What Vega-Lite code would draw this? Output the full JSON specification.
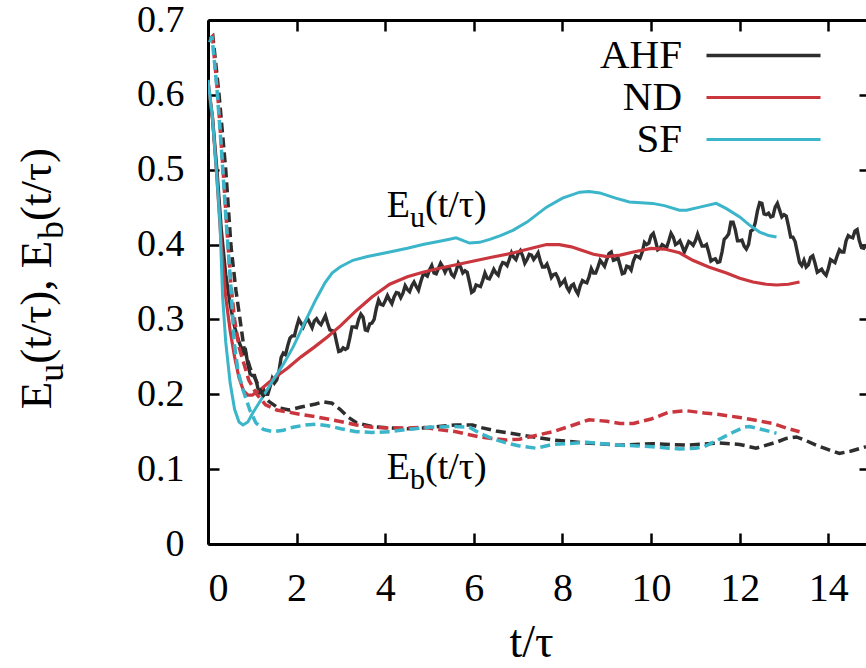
{
  "$schema": "https://vega.github.io/schema/vega-lite/v6.json",
  "width": 658,
  "height": 524,
  "autosize": "none",
  "padding": {"left": 208, "top": 20, "right": 0, "bottom": 124},
  "background": "white",
  "config": {
    "view": {"stroke": null},
    "font": "Liberation Serif, Times New Roman, serif",
    "axis": {"grid": false, "domainColor": "black", "domainWidth": 3, "tickColor": "black", "tickWidth": 2.5,
      "labelFont": "Liberation Serif, Times New Roman, serif", "labelFontSize": 40, "labelColor": "black",
      "titleFont": "Liberation Serif, Times New Roman, serif", "titleFontSize": 46, "titleFontWeight": "normal", "titleColor": "black"},
    "legend": {"labelFont": "Liberation Serif, Times New Roman, serif"},
    "text": {"font": "Liberation Serif, Times New Roman, serif", "fontSize": 38, "color": "black"}
  },
  "datasets": {
    "curves": [
      {"model":"AHF","qty":"Eu","t":0,"E":0.61},{"model":"AHF","qty":"Eu","t":0.1,"E":0.57},{"model":"AHF","qty":"Eu","t":0.2,"E":0.5},{"model":"AHF","qty":"Eu","t":0.3,"E":0.42},{"model":"AHF","qty":"Eu","t":0.4,"E":0.36},{"model":"AHF","qty":"Eu","t":0.5,"E":0.32},{"model":"AHF","qty":"Eu","t":0.6,"E":0.29},{"model":"AHF","qty":"Eu","t":0.7,"E":0.27},{"model":"AHF","qty":"Eu","t":0.8,"E":0.255},{"model":"AHF","qty":"Eu","t":0.85,"E":0.258},{"model":"AHF","qty":"Eu","t":0.9,"E":0.24},{"model":"AHF","qty":"Eu","t":0.95,"E":0.227},
      {"model":"AHF","qty":"Eu","t":1.0,"E":0.225},{"model":"AHF","qty":"Eu","t":1.05,"E":0.225},{"model":"AHF","qty":"Eu","t":1.1,"E":0.215},{"model":"AHF","qty":"Eu","t":1.15,"E":0.202},{"model":"AHF","qty":"Eu","t":1.2,"E":0.205},{"model":"AHF","qty":"Eu","t":1.25,"E":0.207},{"model":"AHF","qty":"Eu","t":1.3,"E":0.2},{"model":"AHF","qty":"Eu","t":1.35,"E":0.2},{"model":"AHF","qty":"Eu","t":1.4,"E":0.21},{"model":"AHF","qty":"Eu","t":1.45,"E":0.221},{"model":"AHF","qty":"Eu","t":1.5,"E":0.215},{"model":"AHF","qty":"Eu","t":1.55,"E":0.219},{"model":"AHF","qty":"Eu","t":1.6,"E":0.23},{"model":"AHF","qty":"Eu","t":1.65,"E":0.249},{"model":"AHF","qty":"Eu","t":1.7,"E":0.255},{"model":"AHF","qty":"Eu","t":1.75,"E":0.253},{"model":"AHF","qty":"Eu","t":1.8,"E":0.265},{"model":"AHF","qty":"Eu","t":1.85,"E":0.275},{"model":"AHF","qty":"Eu","t":1.9,"E":0.278},{"model":"AHF","qty":"Eu","t":1.95,"E":0.278},
      {"model":"AHF","qty":"Eu","t":2.0,"E":0.29},{"model":"AHF","qty":"Eu","t":2.05,"E":0.3},{"model":"AHF","qty":"Eu","t":2.1,"E":0.295},{"model":"AHF","qty":"Eu","t":2.15,"E":0.29},{"model":"AHF","qty":"Eu","t":2.2,"E":0.297},{"model":"AHF","qty":"Eu","t":2.25,"E":0.301},{"model":"AHF","qty":"Eu","t":2.3,"E":0.295},{"model":"AHF","qty":"Eu","t":2.35,"E":0.289},{"model":"AHF","qty":"Eu","t":2.4,"E":0.298},{"model":"AHF","qty":"Eu","t":2.45,"E":0.301},{"model":"AHF","qty":"Eu","t":2.5,"E":0.296},{"model":"AHF","qty":"Eu","t":2.55,"E":0.293},{"model":"AHF","qty":"Eu","t":2.6,"E":0.299},{"model":"AHF","qty":"Eu","t":2.65,"E":0.305},{"model":"AHF","qty":"Eu","t":2.7,"E":0.295},{"model":"AHF","qty":"Eu","t":2.75,"E":0.286},{"model":"AHF","qty":"Eu","t":2.8,"E":0.285},{"model":"AHF","qty":"Eu","t":2.85,"E":0.284},{"model":"AHF","qty":"Eu","t":2.9,"E":0.27},{"model":"AHF","qty":"Eu","t":2.95,"E":0.257},
      {"model":"AHF","qty":"Eu","t":3.0,"E":0.258},{"model":"AHF","qty":"Eu","t":3.05,"E":0.262},{"model":"AHF","qty":"Eu","t":3.1,"E":0.26},{"model":"AHF","qty":"Eu","t":3.15,"E":0.262},{"model":"AHF","qty":"Eu","t":3.2,"E":0.275},{"model":"AHF","qty":"Eu","t":3.25,"E":0.29},{"model":"AHF","qty":"Eu","t":3.3,"E":0.29},{"model":"AHF","qty":"Eu","t":3.35,"E":0.289},{"model":"AHF","qty":"Eu","t":3.4,"E":0.3},{"model":"AHF","qty":"Eu","t":3.45,"E":0.307},{"model":"AHF","qty":"Eu","t":3.5,"E":0.303},{"model":"AHF","qty":"Eu","t":3.55,"E":0.286},{"model":"AHF","qty":"Eu","t":3.6,"E":0.285},{"model":"AHF","qty":"Eu","t":3.65,"E":0.294},{"model":"AHF","qty":"Eu","t":3.7,"E":0.295},{"model":"AHF","qty":"Eu","t":3.75,"E":0.3},{"model":"AHF","qty":"Eu","t":3.8,"E":0.315},{"model":"AHF","qty":"Eu","t":3.85,"E":0.326},{"model":"AHF","qty":"Eu","t":3.9,"E":0.32},{"model":"AHF","qty":"Eu","t":3.95,"E":0.319},
      {"model":"AHF","qty":"Eu","t":4.0,"E":0.325},{"model":"AHF","qty":"Eu","t":4.05,"E":0.332},{"model":"AHF","qty":"Eu","t":4.1,"E":0.326},{"model":"AHF","qty":"Eu","t":4.15,"E":0.321},{"model":"AHF","qty":"Eu","t":4.2,"E":0.33},{"model":"AHF","qty":"Eu","t":4.25,"E":0.336},{"model":"AHF","qty":"Eu","t":4.3,"E":0.335},{"model":"AHF","qty":"Eu","t":4.35,"E":0.329},{"model":"AHF","qty":"Eu","t":4.4,"E":0.335},{"model":"AHF","qty":"Eu","t":4.45,"E":0.345},{"model":"AHF","qty":"Eu","t":4.5,"E":0.34},{"model":"AHF","qty":"Eu","t":4.55,"E":0.337},{"model":"AHF","qty":"Eu","t":4.6,"E":0.345},{"model":"AHF","qty":"Eu","t":4.65,"E":0.35},{"model":"AHF","qty":"Eu","t":4.7,"E":0.344},{"model":"AHF","qty":"Eu","t":4.75,"E":0.339},{"model":"AHF","qty":"Eu","t":4.8,"E":0.35},{"model":"AHF","qty":"Eu","t":4.85,"E":0.359},{"model":"AHF","qty":"Eu","t":4.9,"E":0.36},{"model":"AHF","qty":"Eu","t":4.95,"E":0.358},
      {"model":"AHF","qty":"Eu","t":5.0,"E":0.366},{"model":"AHF","qty":"Eu","t":5.05,"E":0.372},{"model":"AHF","qty":"Eu","t":5.1,"E":0.362},{"model":"AHF","qty":"Eu","t":5.15,"E":0.361},{"model":"AHF","qty":"Eu","t":5.2,"E":0.368},{"model":"AHF","qty":"Eu","t":5.25,"E":0.375},{"model":"AHF","qty":"Eu","t":5.3,"E":0.37},{"model":"AHF","qty":"Eu","t":5.35,"E":0.363},{"model":"AHF","qty":"Eu","t":5.4,"E":0.369},{"model":"AHF","qty":"Eu","t":5.45,"E":0.368},{"model":"AHF","qty":"Eu","t":5.5,"E":0.36},{"model":"AHF","qty":"Eu","t":5.55,"E":0.357},{"model":"AHF","qty":"Eu","t":5.6,"E":0.365},{"model":"AHF","qty":"Eu","t":5.65,"E":0.375},{"model":"AHF","qty":"Eu","t":5.7,"E":0.37},{"model":"AHF","qty":"Eu","t":5.75,"E":0.362},{"model":"AHF","qty":"Eu","t":5.8,"E":0.365},{"model":"AHF","qty":"Eu","t":5.85,"E":0.363},{"model":"AHF","qty":"Eu","t":5.9,"E":0.35},{"model":"AHF","qty":"Eu","t":5.95,"E":0.336},
      {"model":"AHF","qty":"Eu","t":6.0,"E":0.338},{"model":"AHF","qty":"Eu","t":6.05,"E":0.346},{"model":"AHF","qty":"Eu","t":6.1,"E":0.345},{"model":"AHF","qty":"Eu","t":6.15,"E":0.344},{"model":"AHF","qty":"Eu","t":6.2,"E":0.352},{"model":"AHF","qty":"Eu","t":6.25,"E":0.362},{"model":"AHF","qty":"Eu","t":6.3,"E":0.355},{"model":"AHF","qty":"Eu","t":6.35,"E":0.354},{"model":"AHF","qty":"Eu","t":6.4,"E":0.36},{"model":"AHF","qty":"Eu","t":6.45,"E":0.367},{"model":"AHF","qty":"Eu","t":6.5,"E":0.362},{"model":"AHF","qty":"Eu","t":6.55,"E":0.359},{"model":"AHF","qty":"Eu","t":6.6,"E":0.37},{"model":"AHF","qty":"Eu","t":6.65,"E":0.376},{"model":"AHF","qty":"Eu","t":6.7,"E":0.375},{"model":"AHF","qty":"Eu","t":6.75,"E":0.372},{"model":"AHF","qty":"Eu","t":6.8,"E":0.38},{"model":"AHF","qty":"Eu","t":6.85,"E":0.389},{"model":"AHF","qty":"Eu","t":6.9,"E":0.383},{"model":"AHF","qty":"Eu","t":6.95,"E":0.38},
      {"model":"AHF","qty":"Eu","t":7.0,"E":0.388},{"model":"AHF","qty":"Eu","t":7.05,"E":0.392},{"model":"AHF","qty":"Eu","t":7.1,"E":0.385},{"model":"AHF","qty":"Eu","t":7.15,"E":0.375},{"model":"AHF","qty":"Eu","t":7.2,"E":0.38},{"model":"AHF","qty":"Eu","t":7.25,"E":0.387},{"model":"AHF","qty":"Eu","t":7.3,"E":0.386},{"model":"AHF","qty":"Eu","t":7.35,"E":0.38},{"model":"AHF","qty":"Eu","t":7.4,"E":0.384},{"model":"AHF","qty":"Eu","t":7.45,"E":0.389},{"model":"AHF","qty":"Eu","t":7.5,"E":0.378},{"model":"AHF","qty":"Eu","t":7.55,"E":0.37},{"model":"AHF","qty":"Eu","t":7.6,"E":0.37},{"model":"AHF","qty":"Eu","t":7.65,"E":0.374},{"model":"AHF","qty":"Eu","t":7.7,"E":0.366},{"model":"AHF","qty":"Eu","t":7.75,"E":0.356},{"model":"AHF","qty":"Eu","t":7.8,"E":0.36},{"model":"AHF","qty":"Eu","t":7.85,"E":0.361},{"model":"AHF","qty":"Eu","t":7.9,"E":0.355},{"model":"AHF","qty":"Eu","t":7.95,"E":0.346},
      {"model":"AHF","qty":"Eu","t":8.0,"E":0.349},{"model":"AHF","qty":"Eu","t":8.05,"E":0.353},{"model":"AHF","qty":"Eu","t":8.1,"E":0.343},{"model":"AHF","qty":"Eu","t":8.15,"E":0.338},{"model":"AHF","qty":"Eu","t":8.2,"E":0.345},{"model":"AHF","qty":"Eu","t":8.25,"E":0.347},{"model":"AHF","qty":"Eu","t":8.3,"E":0.339},{"model":"AHF","qty":"Eu","t":8.35,"E":0.334},{"model":"AHF","qty":"Eu","t":8.4,"E":0.345},{"model":"AHF","qty":"Eu","t":8.45,"E":0.352},{"model":"AHF","qty":"Eu","t":8.5,"E":0.35},{"model":"AHF","qty":"Eu","t":8.55,"E":0.349},{"model":"AHF","qty":"Eu","t":8.6,"E":0.357},{"model":"AHF","qty":"Eu","t":8.65,"E":0.368},{"model":"AHF","qty":"Eu","t":8.7,"E":0.362},{"model":"AHF","qty":"Eu","t":8.75,"E":0.362},{"model":"AHF","qty":"Eu","t":8.8,"E":0.37},{"model":"AHF","qty":"Eu","t":8.85,"E":0.379},{"model":"AHF","qty":"Eu","t":8.9,"E":0.375},{"model":"AHF","qty":"Eu","t":8.95,"E":0.371},
      {"model":"AHF","qty":"Eu","t":9.0,"E":0.38},{"model":"AHF","qty":"Eu","t":9.05,"E":0.388},{"model":"AHF","qty":"Eu","t":9.1,"E":0.39},{"model":"AHF","qty":"Eu","t":9.15,"E":0.379},{"model":"AHF","qty":"Eu","t":9.2,"E":0.38},{"model":"AHF","qty":"Eu","t":9.25,"E":0.383},{"model":"AHF","qty":"Eu","t":9.3,"E":0.372},{"model":"AHF","qty":"Eu","t":9.35,"E":0.361},{"model":"AHF","qty":"Eu","t":9.4,"E":0.362},{"model":"AHF","qty":"Eu","t":9.45,"E":0.371},{"model":"AHF","qty":"Eu","t":9.5,"E":0.37},{"model":"AHF","qty":"Eu","t":9.55,"E":0.366},{"model":"AHF","qty":"Eu","t":9.6,"E":0.378},{"model":"AHF","qty":"Eu","t":9.65,"E":0.385},{"model":"AHF","qty":"Eu","t":9.7,"E":0.384},{"model":"AHF","qty":"Eu","t":9.75,"E":0.382},{"model":"AHF","qty":"Eu","t":9.8,"E":0.39},{"model":"AHF","qty":"Eu","t":9.85,"E":0.403},{"model":"AHF","qty":"Eu","t":9.9,"E":0.4},{"model":"AHF","qty":"Eu","t":9.95,"E":0.402},
      {"model":"AHF","qty":"Eu","t":10.0,"E":0.412},{"model":"AHF","qty":"Eu","t":10.05,"E":0.415},{"model":"AHF","qty":"Eu","t":10.1,"E":0.405},{"model":"AHF","qty":"Eu","t":10.15,"E":0.393},{"model":"AHF","qty":"Eu","t":10.2,"E":0.395},{"model":"AHF","qty":"Eu","t":10.25,"E":0.4},{"model":"AHF","qty":"Eu","t":10.3,"E":0.398},{"model":"AHF","qty":"Eu","t":10.35,"E":0.396},{"model":"AHF","qty":"Eu","t":10.4,"E":0.405},{"model":"AHF","qty":"Eu","t":10.45,"E":0.415},{"model":"AHF","qty":"Eu","t":10.5,"E":0.41},{"model":"AHF","qty":"Eu","t":10.55,"E":0.4},{"model":"AHF","qty":"Eu","t":10.6,"E":0.402},{"model":"AHF","qty":"Eu","t":10.65,"E":0.405},{"model":"AHF","qty":"Eu","t":10.7,"E":0.398},{"model":"AHF","qty":"Eu","t":10.75,"E":0.39},{"model":"AHF","qty":"Eu","t":10.8,"E":0.397},{"model":"AHF","qty":"Eu","t":10.85,"E":0.404},{"model":"AHF","qty":"Eu","t":10.9,"E":0.402},{"model":"AHF","qty":"Eu","t":10.95,"E":0.399},
      {"model":"AHF","qty":"Eu","t":11.0,"E":0.405},{"model":"AHF","qty":"Eu","t":11.05,"E":0.414},{"model":"AHF","qty":"Eu","t":11.1,"E":0.406},{"model":"AHF","qty":"Eu","t":11.15,"E":0.398},{"model":"AHF","qty":"Eu","t":11.2,"E":0.398},{"model":"AHF","qty":"Eu","t":11.25,"E":0.4},{"model":"AHF","qty":"Eu","t":11.3,"E":0.39},{"model":"AHF","qty":"Eu","t":11.35,"E":0.378},{"model":"AHF","qty":"Eu","t":11.4,"E":0.38},{"model":"AHF","qty":"Eu","t":11.45,"E":0.381},{"model":"AHF","qty":"Eu","t":11.5,"E":0.376},{"model":"AHF","qty":"Eu","t":11.55,"E":0.377},{"model":"AHF","qty":"Eu","t":11.6,"E":0.39},{"model":"AHF","qty":"Eu","t":11.65,"E":0.407},{"model":"AHF","qty":"Eu","t":11.7,"E":0.41},{"model":"AHF","qty":"Eu","t":11.75,"E":0.414},{"model":"AHF","qty":"Eu","t":11.8,"E":0.43},{"model":"AHF","qty":"Eu","t":11.85,"E":0.43},{"model":"AHF","qty":"Eu","t":11.9,"E":0.42},{"model":"AHF","qty":"Eu","t":11.95,"E":0.405},
      {"model":"AHF","qty":"Eu","t":12.0,"E":0.405},{"model":"AHF","qty":"Eu","t":12.05,"E":0.406},{"model":"AHF","qty":"Eu","t":12.1,"E":0.398},{"model":"AHF","qty":"Eu","t":12.15,"E":0.394},{"model":"AHF","qty":"Eu","t":12.2,"E":0.4},{"model":"AHF","qty":"Eu","t":12.25,"E":0.418},{"model":"AHF","qty":"Eu","t":12.3,"E":0.42},{"model":"AHF","qty":"Eu","t":12.35,"E":0.429},{"model":"AHF","qty":"Eu","t":12.4,"E":0.445},{"model":"AHF","qty":"Eu","t":12.45,"E":0.456},{"model":"AHF","qty":"Eu","t":12.5,"E":0.455},{"model":"AHF","qty":"Eu","t":12.55,"E":0.441},{"model":"AHF","qty":"Eu","t":12.6,"E":0.44},{"model":"AHF","qty":"Eu","t":12.65,"E":0.442},{"model":"AHF","qty":"Eu","t":12.7,"E":0.437},{"model":"AHF","qty":"Eu","t":12.75,"E":0.438},{"model":"AHF","qty":"Eu","t":12.8,"E":0.45},{"model":"AHF","qty":"Eu","t":12.85,"E":0.455},{"model":"AHF","qty":"Eu","t":12.9,"E":0.446},{"model":"AHF","qty":"Eu","t":12.95,"E":0.437},
      {"model":"AHF","qty":"Eu","t":13.0,"E":0.44},{"model":"AHF","qty":"Eu","t":13.05,"E":0.438},{"model":"AHF","qty":"Eu","t":13.1,"E":0.425},{"model":"AHF","qty":"Eu","t":13.15,"E":0.41},{"model":"AHF","qty":"Eu","t":13.2,"E":0.41},{"model":"AHF","qty":"Eu","t":13.25,"E":0.404},{"model":"AHF","qty":"Eu","t":13.3,"E":0.39},{"model":"AHF","qty":"Eu","t":13.35,"E":0.376},{"model":"AHF","qty":"Eu","t":13.4,"E":0.372},{"model":"AHF","qty":"Eu","t":13.45,"E":0.379},{"model":"AHF","qty":"Eu","t":13.5,"E":0.37},{"model":"AHF","qty":"Eu","t":13.55,"E":0.373},{"model":"AHF","qty":"Eu","t":13.6,"E":0.383},{"model":"AHF","qty":"Eu","t":13.65,"E":0.385},{"model":"AHF","qty":"Eu","t":13.7,"E":0.375},{"model":"AHF","qty":"Eu","t":13.75,"E":0.363},{"model":"AHF","qty":"Eu","t":13.8,"E":0.365},{"model":"AHF","qty":"Eu","t":13.85,"E":0.367},{"model":"AHF","qty":"Eu","t":13.9,"E":0.362},{"model":"AHF","qty":"Eu","t":13.95,"E":0.359},
      {"model":"AHF","qty":"Eu","t":14.0,"E":0.368},{"model":"AHF","qty":"Eu","t":14.05,"E":0.38},{"model":"AHF","qty":"Eu","t":14.1,"E":0.378},{"model":"AHF","qty":"Eu","t":14.15,"E":0.376},{"model":"AHF","qty":"Eu","t":14.2,"E":0.385},{"model":"AHF","qty":"Eu","t":14.25,"E":0.393},{"model":"AHF","qty":"Eu","t":14.3,"E":0.39},{"model":"AHF","qty":"Eu","t":14.35,"E":0.39},{"model":"AHF","qty":"Eu","t":14.4,"E":0.405},{"model":"AHF","qty":"Eu","t":14.45,"E":0.412},{"model":"AHF","qty":"Eu","t":14.5,"E":0.41},{"model":"AHF","qty":"Eu","t":14.55,"E":0.409},{"model":"AHF","qty":"Eu","t":14.6,"E":0.418},{"model":"AHF","qty":"Eu","t":14.65,"E":0.42},{"model":"AHF","qty":"Eu","t":14.7,"E":0.405},{"model":"AHF","qty":"Eu","t":14.75,"E":0.396},{"model":"AHF","qty":"Eu","t":14.8,"E":0.395},{"model":"AHF","qty":"Eu","t":14.85,"E":0.4},

      {"model":"ND","qty":"Eu","t":0,"E":0.62},{"model":"ND","qty":"Eu","t":0.1,"E":0.57},{"model":"ND","qty":"Eu","t":0.2,"E":0.49},{"model":"ND","qty":"Eu","t":0.3,"E":0.4},{"model":"ND","qty":"Eu","t":0.4,"E":0.33},{"model":"ND","qty":"Eu","t":0.5,"E":0.285},{"model":"ND","qty":"Eu","t":0.6,"E":0.25},{"model":"ND","qty":"Eu","t":0.7,"E":0.222},{"model":"ND","qty":"Eu","t":0.8,"E":0.205},{"model":"ND","qty":"Eu","t":0.9,"E":0.199},{"model":"ND","qty":"Eu","t":1.0,"E":0.199},{"model":"ND","qty":"Eu","t":1.2,"E":0.207},{"model":"ND","qty":"Eu","t":1.5,"E":0.222},{"model":"ND","qty":"Eu","t":1.8,"E":0.235},{"model":"ND","qty":"Eu","t":2.1,"E":0.25},{"model":"ND","qty":"Eu","t":2.4,"E":0.263},{"model":"ND","qty":"Eu","t":2.7,"E":0.277},{"model":"ND","qty":"Eu","t":3.0,"E":0.292},{"model":"ND","qty":"Eu","t":3.35,"E":0.312},{"model":"ND","qty":"Eu","t":3.7,"E":0.33},{"model":"ND","qty":"Eu","t":4.1,"E":0.347},{"model":"ND","qty":"Eu","t":4.5,"E":0.357},{"model":"ND","qty":"Eu","t":4.85,"E":0.363},{"model":"ND","qty":"Eu","t":5.2,"E":0.368},{"model":"ND","qty":"Eu","t":5.6,"E":0.373},{"model":"ND","qty":"Eu","t":6.0,"E":0.378},{"model":"ND","qty":"Eu","t":6.4,"E":0.383},{"model":"ND","qty":"Eu","t":6.9,"E":0.389},{"model":"ND","qty":"Eu","t":7.3,"E":0.395},{"model":"ND","qty":"Eu","t":7.64,"E":0.4},{"model":"ND","qty":"Eu","t":7.93,"E":0.4},{"model":"ND","qty":"Eu","t":8.2,"E":0.397},{"model":"ND","qty":"Eu","t":8.4,"E":0.393},{"model":"ND","qty":"Eu","t":8.7,"E":0.387},{"model":"ND","qty":"Eu","t":9.0,"E":0.384},{"model":"ND","qty":"Eu","t":9.3,"E":0.386},{"model":"ND","qty":"Eu","t":9.6,"E":0.39},{"model":"ND","qty":"Eu","t":10.0,"E":0.395},{"model":"ND","qty":"Eu","t":10.3,"E":0.394},{"model":"ND","qty":"Eu","t":10.64,"E":0.389},{"model":"ND","qty":"Eu","t":10.94,"E":0.379},{"model":"ND","qty":"Eu","t":11.3,"E":0.37},{"model":"ND","qty":"Eu","t":11.7,"E":0.362},{"model":"ND","qty":"Eu","t":12.0,"E":0.355},{"model":"ND","qty":"Eu","t":12.3,"E":0.35},{"model":"ND","qty":"Eu","t":12.6,"E":0.347},{"model":"ND","qty":"Eu","t":12.83,"E":0.346},{"model":"ND","qty":"Eu","t":13.1,"E":0.347},{"model":"ND","qty":"Eu","t":13.35,"E":0.35},

      {"model":"SF","qty":"Eu","t":0,"E":0.62},{"model":"SF","qty":"Eu","t":0.1,"E":0.57},{"model":"SF","qty":"Eu","t":0.2,"E":0.49},{"model":"SF","qty":"Eu","t":0.27,"E":0.43},{"model":"SF","qty":"Eu","t":0.33,"E":0.33},{"model":"SF","qty":"Eu","t":0.4,"E":0.27},{"model":"SF","qty":"Eu","t":0.5,"E":0.215},{"model":"SF","qty":"Eu","t":0.6,"E":0.18},{"model":"SF","qty":"Eu","t":0.7,"E":0.163},{"model":"SF","qty":"Eu","t":0.79,"E":0.159},{"model":"SF","qty":"Eu","t":0.9,"E":0.163},{"model":"SF","qty":"Eu","t":1.01,"E":0.175},{"model":"SF","qty":"Eu","t":1.2,"E":0.193},{"model":"SF","qty":"Eu","t":1.47,"E":0.219},{"model":"SF","qty":"Eu","t":1.7,"E":0.24},{"model":"SF","qty":"Eu","t":1.92,"E":0.263},{"model":"SF","qty":"Eu","t":2.2,"E":0.298},{"model":"SF","qty":"Eu","t":2.43,"E":0.326},{"model":"SF","qty":"Eu","t":2.64,"E":0.349},{"model":"SF","qty":"Eu","t":2.8,"E":0.362},{"model":"SF","qty":"Eu","t":2.98,"E":0.37},{"model":"SF","qty":"Eu","t":3.27,"E":0.379},{"model":"SF","qty":"Eu","t":3.6,"E":0.384},{"model":"SF","qty":"Eu","t":4.1,"E":0.39},{"model":"SF","qty":"Eu","t":4.5,"E":0.395},{"model":"SF","qty":"Eu","t":4.85,"E":0.4},{"model":"SF","qty":"Eu","t":5.2,"E":0.404},{"model":"SF","qty":"Eu","t":5.45,"E":0.407},{"model":"SF","qty":"Eu","t":5.6,"E":0.409},{"model":"SF","qty":"Eu","t":5.9,"E":0.402},{"model":"SF","qty":"Eu","t":6.13,"E":0.403},{"model":"SF","qty":"Eu","t":6.36,"E":0.407},{"model":"SF","qty":"Eu","t":6.6,"E":0.412},{"model":"SF","qty":"Eu","t":6.88,"E":0.419},{"model":"SF","qty":"Eu","t":7.2,"E":0.43},{"model":"SF","qty":"Eu","t":7.64,"E":0.45},{"model":"SF","qty":"Eu","t":8.0,"E":0.462},{"model":"SF","qty":"Eu","t":8.39,"E":0.47},{"model":"SF","qty":"Eu","t":8.6,"E":0.471},{"model":"SF","qty":"Eu","t":8.84,"E":0.469},{"model":"SF","qty":"Eu","t":9.2,"E":0.462},{"model":"SF","qty":"Eu","t":9.51,"E":0.457},{"model":"SF","qty":"Eu","t":10.03,"E":0.455},{"model":"SF","qty":"Eu","t":10.3,"E":0.452},{"model":"SF","qty":"Eu","t":10.64,"E":0.446},{"model":"SF","qty":"Eu","t":10.8,"E":0.446},{"model":"SF","qty":"Eu","t":11.1,"E":0.45},{"model":"SF","qty":"Eu","t":11.47,"E":0.455},{"model":"SF","qty":"Eu","t":11.7,"E":0.448},{"model":"SF","qty":"Eu","t":12.0,"E":0.437},{"model":"SF","qty":"Eu","t":12.2,"E":0.427},{"model":"SF","qty":"Eu","t":12.44,"E":0.417},{"model":"SF","qty":"Eu","t":12.65,"E":0.412},{"model":"SF","qty":"Eu","t":12.83,"E":0.41},

      {"model":"AHF","qty":"Eb","t":0.05,"E":0.675},{"model":"AHF","qty":"Eb","t":0.11,"E":0.678},{"model":"AHF","qty":"Eb","t":0.25,"E":0.6},{"model":"AHF","qty":"Eb","t":0.4,"E":0.5},{"model":"AHF","qty":"Eb","t":0.52,"E":0.397},{"model":"AHF","qty":"Eb","t":0.63,"E":0.339},{"model":"AHF","qty":"Eb","t":0.81,"E":0.263},{"model":"AHF","qty":"Eb","t":0.95,"E":0.235},{"model":"AHF","qty":"Eb","t":1.08,"E":0.219},{"model":"AHF","qty":"Eb","t":1.22,"E":0.2},{"model":"AHF","qty":"Eb","t":1.38,"E":0.19},{"model":"AHF","qty":"Eb","t":1.58,"E":0.182},{"model":"AHF","qty":"Eb","t":1.83,"E":0.179},{"model":"AHF","qty":"Eb","t":2.1,"E":0.183},{"model":"AHF","qty":"Eb","t":2.43,"E":0.187},{"model":"AHF","qty":"Eb","t":2.6,"E":0.19},{"model":"AHF","qty":"Eb","t":2.8,"E":0.188},{"model":"AHF","qty":"Eb","t":2.98,"E":0.18},{"model":"AHF","qty":"Eb","t":3.15,"E":0.17},{"model":"AHF","qty":"Eb","t":3.35,"E":0.162},{"model":"AHF","qty":"Eb","t":3.7,"E":0.157},{"model":"AHF","qty":"Eb","t":4.1,"E":0.155},{"model":"AHF","qty":"Eb","t":4.5,"E":0.154},{"model":"AHF","qty":"Eb","t":4.85,"E":0.155},{"model":"AHF","qty":"Eb","t":5.2,"E":0.157},{"model":"AHF","qty":"Eb","t":5.6,"E":0.159},{"model":"AHF","qty":"Eb","t":5.97,"E":0.159},{"model":"AHF","qty":"Eb","t":6.13,"E":0.156},{"model":"AHF","qty":"Eb","t":6.5,"E":0.151},{"model":"AHF","qty":"Eb","t":7.03,"E":0.146},{"model":"AHF","qty":"Eb","t":7.78,"E":0.139},{"model":"AHF","qty":"Eb","t":8.54,"E":0.135},{"model":"AHF","qty":"Eb","t":9.29,"E":0.132},{"model":"AHF","qty":"Eb","t":10.03,"E":0.134},{"model":"AHF","qty":"Eb","t":10.8,"E":0.132},{"model":"AHF","qty":"Eb","t":11.54,"E":0.135},{"model":"AHF","qty":"Eb","t":12.0,"E":0.133},{"model":"AHF","qty":"Eb","t":12.37,"E":0.128},{"model":"AHF","qty":"Eb","t":12.83,"E":0.136},{"model":"AHF","qty":"Eb","t":13.05,"E":0.141},{"model":"AHF","qty":"Eb","t":13.28,"E":0.143},{"model":"AHF","qty":"Eb","t":13.5,"E":0.138},{"model":"AHF","qty":"Eb","t":13.73,"E":0.132},{"model":"AHF","qty":"Eb","t":14.0,"E":0.126},{"model":"AHF","qty":"Eb","t":14.25,"E":0.121},{"model":"AHF","qty":"Eb","t":14.5,"E":0.124},{"model":"AHF","qty":"Eb","t":14.85,"E":0.13},

      {"model":"ND","qty":"Eb","t":0.05,"E":0.675},{"model":"ND","qty":"Eb","t":0.1,"E":0.678},{"model":"ND","qty":"Eb","t":0.22,"E":0.6},{"model":"ND","qty":"Eb","t":0.34,"E":0.5},{"model":"ND","qty":"Eb","t":0.45,"E":0.4},{"model":"ND","qty":"Eb","t":0.52,"E":0.345},{"model":"ND","qty":"Eb","t":0.6,"E":0.3},{"model":"ND","qty":"Eb","t":0.7,"E":0.263},{"model":"ND","qty":"Eb","t":0.92,"E":0.219},{"model":"ND","qty":"Eb","t":1.1,"E":0.2},{"model":"ND","qty":"Eb","t":1.3,"E":0.186},{"model":"ND","qty":"Eb","t":1.55,"E":0.179},{"model":"ND","qty":"Eb","t":1.83,"E":0.176},{"model":"ND","qty":"Eb","t":2.1,"E":0.173},{"model":"ND","qty":"Eb","t":2.43,"E":0.17},{"model":"ND","qty":"Eb","t":2.8,"E":0.166},{"model":"ND","qty":"Eb","t":3.35,"E":0.159},{"model":"ND","qty":"Eb","t":3.7,"E":0.156},{"model":"ND","qty":"Eb","t":4.1,"E":0.155},{"model":"ND","qty":"Eb","t":4.5,"E":0.155},{"model":"ND","qty":"Eb","t":4.85,"E":0.156},{"model":"ND","qty":"Eb","t":5.2,"E":0.153},{"model":"ND","qty":"Eb","t":5.6,"E":0.15},{"model":"ND","qty":"Eb","t":5.9,"E":0.146},{"model":"ND","qty":"Eb","t":6.13,"E":0.143},{"model":"ND","qty":"Eb","t":6.4,"E":0.141},{"model":"ND","qty":"Eb","t":6.73,"E":0.139},{"model":"ND","qty":"Eb","t":7.03,"E":0.14},{"model":"ND","qty":"Eb","t":7.4,"E":0.145},{"model":"ND","qty":"Eb","t":7.78,"E":0.15},{"model":"ND","qty":"Eb","t":8.2,"E":0.158},{"model":"ND","qty":"Eb","t":8.6,"E":0.166},{"model":"ND","qty":"Eb","t":9.0,"E":0.164},{"model":"ND","qty":"Eb","t":9.3,"E":0.161},{"model":"ND","qty":"Eb","t":9.6,"E":0.161},{"model":"ND","qty":"Eb","t":10.0,"E":0.167},{"model":"ND","qty":"Eb","t":10.4,"E":0.176},{"model":"ND","qty":"Eb","t":10.8,"E":0.178},{"model":"ND","qty":"Eb","t":11.2,"E":0.175},{"model":"ND","qty":"Eb","t":11.54,"E":0.173},{"model":"ND","qty":"Eb","t":12.0,"E":0.169},{"model":"ND","qty":"Eb","t":12.3,"E":0.166},{"model":"ND","qty":"Eb","t":12.74,"E":0.161},{"model":"ND","qty":"Eb","t":13.05,"E":0.155},{"model":"ND","qty":"Eb","t":13.35,"E":0.15},

      {"model":"SF","qty":"Eb","t":0.04,"E":0.67},{"model":"SF","qty":"Eb","t":0.09,"E":0.678},{"model":"SF","qty":"Eb","t":0.2,"E":0.61},{"model":"SF","qty":"Eb","t":0.3,"E":0.53},{"model":"SF","qty":"Eb","t":0.4,"E":0.44},{"model":"SF","qty":"Eb","t":0.52,"E":0.34},{"model":"SF","qty":"Eb","t":0.59,"E":0.27},{"model":"SF","qty":"Eb","t":0.68,"E":0.23},{"model":"SF","qty":"Eb","t":0.79,"E":0.206},{"model":"SF","qty":"Eb","t":0.95,"E":0.178},{"model":"SF","qty":"Eb","t":1.08,"E":0.162},{"model":"SF","qty":"Eb","t":1.25,"E":0.153},{"model":"SF","qty":"Eb","t":1.47,"E":0.15},{"model":"SF","qty":"Eb","t":1.7,"E":0.152},{"model":"SF","qty":"Eb","t":1.92,"E":0.156},{"model":"SF","qty":"Eb","t":2.2,"E":0.159},{"model":"SF","qty":"Eb","t":2.43,"E":0.16},{"model":"SF","qty":"Eb","t":2.7,"E":0.158},{"model":"SF","qty":"Eb","t":3.0,"E":0.154},{"model":"SF","qty":"Eb","t":3.35,"E":0.15},{"model":"SF","qty":"Eb","t":3.7,"E":0.149},{"model":"SF","qty":"Eb","t":4.1,"E":0.15},{"model":"SF","qty":"Eb","t":4.5,"E":0.153},{"model":"SF","qty":"Eb","t":5.0,"E":0.156},{"model":"SF","qty":"Eb","t":5.5,"E":0.157},{"model":"SF","qty":"Eb","t":5.9,"E":0.156},{"model":"SF","qty":"Eb","t":6.13,"E":0.148},{"model":"SF","qty":"Eb","t":6.4,"E":0.141},{"model":"SF","qty":"Eb","t":6.73,"E":0.135},{"model":"SF","qty":"Eb","t":7.03,"E":0.131},{"model":"SF","qty":"Eb","t":7.4,"E":0.128},{"model":"SF","qty":"Eb","t":7.78,"E":0.133},{"model":"SF","qty":"Eb","t":8.09,"E":0.134},{"model":"SF","qty":"Eb","t":8.54,"E":0.136},{"model":"SF","qty":"Eb","t":8.9,"E":0.134},{"model":"SF","qty":"Eb","t":9.29,"E":0.132},{"model":"SF","qty":"Eb","t":9.7,"E":0.131},{"model":"SF","qty":"Eb","t":10.03,"E":0.13},{"model":"SF","qty":"Eb","t":10.4,"E":0.128},{"model":"SF","qty":"Eb","t":10.64,"E":0.127},{"model":"SF","qty":"Eb","t":11.0,"E":0.128},{"model":"SF","qty":"Eb","t":11.2,"E":0.13},{"model":"SF","qty":"Eb","t":11.54,"E":0.14},{"model":"SF","qty":"Eb","t":11.84,"E":0.149},{"model":"SF","qty":"Eb","t":12.1,"E":0.156},{"model":"SF","qty":"Eb","t":12.22,"E":0.157},{"model":"SF","qty":"Eb","t":12.5,"E":0.153},{"model":"SF","qty":"Eb","t":12.83,"E":0.148}
    ]
  },
  "layer": [
    {
      "data": {"name": "curves"},
      "transform": [{"filter": "datum.qty === 'Eu'"}],
      "mark": {"type": "line", "clip": true},
      "encoding": {
        "x": {"field": "t", "type": "quantitative", "scale": {"domain": [0, 14.85], "nice": false, "zero": false},
          "axis": {"values": [0, 2, 4, 6, 8, 10, 12, 14], "tickSize": -11, "labelPadding": 35, "title": "t/τ", "titleX": 323, "titleY": 112, "titleBaseline": "alphabetic"}},
        "y": {"field": "E", "type": "quantitative", "scale": {"domain": [0, 0.7], "nice": false},
          "axis": {"values": [0, 0.1, 0.2, 0.3, 0.4, 0.5, 0.6, 0.7], "tickSize": -11, "labelPadding": 35, "labelFontSize": 38, "title": null,
            "labelExpr": "datum.value === 0 ? '0' : format(datum.value, '.1f')"}},
        "color": {"field": "model", "type": "nominal",
          "scale": {"domain": ["AHF", "ND", "SF"], "range": ["#2e2e2e", "#c9363d", "#3bb5c9"]},
          "legend": {"orient": "none", "legendX": 535, "legendY": 15, "title": null, "padding": 0,
            "symbolType": "M-5,0L5,0", "symbolSize": 520, "symbolStrokeWidth": 3.5,
            "labelFont": "Liberation Serif, Times New Roman, serif", "labelFontSize": 41, "labelColor": "black", "labelAlign": "right", "labelOffset": -102,
            "rowPadding": 0}},
        "strokeWidth": {"field": "model", "type": "nominal", "scale": {"domain": ["AHF", "ND", "SF"], "range": [3.4, 3, 3]}, "legend": null}
      }
    },
    {
      "data": {"name": "curves"},
      "transform": [{"filter": "datum.qty === 'Eb'"}],
      "mark": {"type": "line", "strokeWidth": 3.5, "strokeDash": [10, 5], "clip": true},
      "encoding": {
        "x": {"field": "t", "type": "quantitative", "scale": {"domain": [0, 14.85], "nice": false, "zero": false},
          "axis": {"orient": "top", "values": [0, 2, 4, 6, 8, 10, 12, 14], "tickSize": -11, "labels": false, "title": null}},
        "y": {"field": "E", "type": "quantitative", "scale": {"domain": [0, 0.7], "nice": false},
          "axis": {"orient": "right", "values": [0, 0.1, 0.2, 0.3, 0.4, 0.5, 0.6, 0.7], "tickSize": -7, "domain": false, "labels": false, "title": null}},
        "color": {"field": "model", "type": "nominal", "scale": {"domain": ["AHF", "ND", "SF"], "range": ["#2e2e2e", "#c9363d", "#3bb5c9"]}, "legend": null}
      }
    },
    {"data": {"values": [{}]}, "mark": {"type": "text", "text": "E", "align": "left", "baseline": "alphabetic"},
      "encoding": {"x": {"datum": 4.035, "type": "quantitative", "axis": null}, "y": {"datum": 0.4368, "type": "quantitative", "axis": null}}},
    {"data": {"values": [{}]}, "mark": {"type": "text", "text": "u", "align": "left", "baseline": "alphabetic", "fontSize": 30, "dx": 23.2, "dy": 10},
      "encoding": {"x": {"datum": 4.035, "type": "quantitative", "axis": null}, "y": {"datum": 0.4368, "type": "quantitative", "axis": null}}},
    {"data": {"values": [{}]}, "mark": {"type": "text", "text": "(t/τ)", "align": "left", "baseline": "alphabetic", "dx": 38.2},
      "encoding": {"x": {"datum": 4.035, "type": "quantitative", "axis": null}, "y": {"datum": 0.4368, "type": "quantitative", "axis": null}}},
    {"data": {"values": [{}]}, "mark": {"type": "text", "text": "E", "align": "left", "baseline": "alphabetic"},
      "encoding": {"x": {"datum": 4.035, "type": "quantitative", "axis": null}, "y": {"datum": 0.0868, "type": "quantitative", "axis": null}}},
    {"data": {"values": [{}]}, "mark": {"type": "text", "text": "b", "align": "left", "baseline": "alphabetic", "fontSize": 30, "dx": 23.2, "dy": 10},
      "encoding": {"x": {"datum": 4.035, "type": "quantitative", "axis": null}, "y": {"datum": 0.0868, "type": "quantitative", "axis": null}}},
    {"data": {"values": [{}]}, "mark": {"type": "text", "text": "(t/τ)", "align": "left", "baseline": "alphabetic", "dx": 38.2},
      "encoding": {"x": {"datum": 4.035, "type": "quantitative", "axis": null}, "y": {"datum": 0.0868, "type": "quantitative", "axis": null}}},
    {"data": {"values": [{}]}, "mark": {"type": "text", "text": "E", "align": "left", "baseline": "alphabetic", "angle": 270, "fontSize": 45},
      "encoding": {"x": {"datum": -3.54, "type": "quantitative", "axis": null}, "y": {"datum": 0.18, "type": "quantitative", "axis": null}}},
    {"data": {"values": [{}]}, "mark": {"type": "text", "text": "u", "align": "left", "baseline": "alphabetic", "angle": 270, "fontSize": 36, "dx": 27.5, "dy": 12},
      "encoding": {"x": {"datum": -3.54, "type": "quantitative", "axis": null}, "y": {"datum": 0.18, "type": "quantitative", "axis": null}}},
    {"data": {"values": [{}]}, "mark": {"type": "text", "text": "(t/τ), E", "align": "left", "baseline": "alphabetic", "angle": 270, "fontSize": 45, "dx": 45.5},
      "encoding": {"x": {"datum": -3.54, "type": "quantitative", "axis": null}, "y": {"datum": 0.18, "type": "quantitative", "axis": null}}},
    {"data": {"values": [{}]}, "mark": {"type": "text", "text": "b", "align": "left", "baseline": "alphabetic", "angle": 270, "fontSize": 36, "dx": 170.3, "dy": 12},
      "encoding": {"x": {"datum": -3.54, "type": "quantitative", "axis": null}, "y": {"datum": 0.18, "type": "quantitative", "axis": null}}},
    {"data": {"values": [{}]}, "mark": {"type": "text", "text": "(t/τ)", "align": "left", "baseline": "alphabetic", "angle": 270, "fontSize": 45, "dx": 188.3},
      "encoding": {"x": {"datum": -3.54, "type": "quantitative", "axis": null}, "y": {"datum": 0.18, "type": "quantitative", "axis": null}}}
  ],
  "resolve": {"axis": {"x": "independent", "y": "independent"}}
}
